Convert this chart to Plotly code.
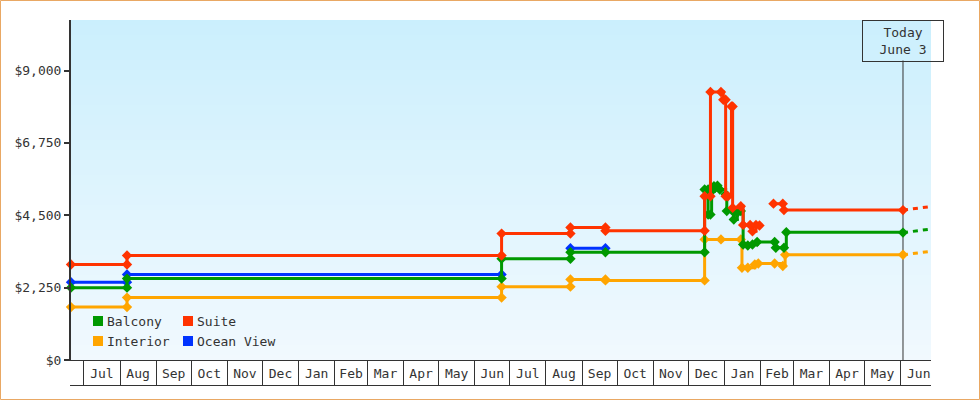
import plotly.graph_objects as go

# ---------------- data ----------------
suite_dates = ["2012-06-20", "2012-08-07", "2012-08-07", "2013-06-24", "2013-06-24",
               "2013-08-22", "2013-08-22", "2013-09-21", "2013-09-21", "2013-12-15",
               "2013-12-15", "2013-12-20", "2013-12-20", "2013-12-29", "2013-12-31",
               "2014-01-02", "2014-01-02", "2014-01-04", "2014-01-07", "2014-01-08",
               "2014-01-08", "2014-01-15", "2014-01-17", "2014-01-23", "2014-01-25",
               "2014-01-28", "2014-01-31", "2014-02-06", "2014-02-12", "2014-02-20",
               "2014-02-21", "2014-06-03"]
suite_prices = [2970, 2970, 3250, 3250, 3930,
                3930, 4120, 4120, 4020, 4020,
                5090, 5090, 8330, 8330, 8090,
                8090, 5090, 5090, 7880, 7880,
                4730, 4780, 4200, 4200, 4000,
                4200, 4180, None, 4860, 4860,
                4660, 4660]

balcony_dates = ["2012-06-20", "2012-08-07", "2012-08-07", "2013-06-24", "2013-06-24",
                 "2013-08-22", "2013-08-22", "2013-09-21", "2013-12-15", "2013-12-15",
                 "2013-12-18", "2013-12-18", "2013-12-20", "2013-12-21", "2013-12-23",
                 "2013-12-24", "2013-12-26", "2013-12-28", "2014-01-02", "2014-01-03",
                 "2014-01-08", "2014-01-09", "2014-01-12", "2014-01-15", "2014-01-17",
                 "2014-01-21", "2014-01-25", "2014-01-29", "2014-02-13", "2014-02-14",
                 "2014-02-21", "2014-02-23", "2014-06-03"]
balcony_prices = [2250, 2250, 2530, 2530, 3150,
                  3150, 3350, 3350, 3350, 5300,
                  5300, 4520, 4520, 5250, 5400,
                  5350, 5420, 5300, 5150, 4630,
                  4630, 4370, 4580, 4630, 3590,
                  3560, 3590, 3670, 3670, 3490,
                  3490, 3970, 3960]

interior_dates = ["2012-06-20", "2012-08-07", "2012-08-07", "2013-06-24", "2013-06-24",
                  "2013-08-22", "2013-08-22", "2013-09-21", "2013-09-21", "2013-12-15",
                  "2013-12-15", "2013-12-29", "2014-01-15", "2014-01-16", "2014-01-21",
                  "2014-01-27", "2014-01-30", "2014-02-13", "2014-02-20", "2014-02-22",
                  "2014-06-03"]
interior_prices = [1645, 1645, 1940, 1940, 2280,
                   2280, 2505, 2505, 2475, 2475,
                   3750, 3750, 3750, 2870, 2870,
                   2970, 3000, 3000, 2920, 3270,
                   3270]

ocean_dates = ["2012-06-20", "2012-08-07", "2012-08-07", "2013-06-24", "2013-07-20",
               "2013-08-22", "2013-09-21"]
ocean_prices = [2420, 2420, 2660, 2660, None,
                3475, 3475]

# short projections after "today"
proj_dates = ["2014-06-03", "2014-06-27"]
suite_proj = [4660, 4770]
balcony_proj = [3960, 4070]
interior_proj = [3270, 3380]

today = "2014-06-03"
today_label = "Today<br>June 3"
x_range = ["2012-06-20", "2014-06-27"]
y_ticks = [0, 2250, 4500, 6750, 9000]
y_tick_text = ["$" + format(v, ",") for v in y_ticks]
legend_order = ["Balcony", "Suite", "Interior", "Ocean View"]

# ---------------- styles ----------------
FONT = "DejaVu Sans Mono"
INK = "#333333"
colors = {"Suite": "#FF3300", "Balcony": "#009900", "Interior": "#FFA500", "Ocean View": "#0033FF"}

W, H = 980, 400
ML, MR, MT, MB = 71, 49, 20, 40
PW, PH = W - ML - MR, H - MT - MB


def px_x(p):
    return (p - ML) / PW


def px_y(p):
    return (H - MB - p) / PH


fig = go.Figure()

series = [
    ("Ocean View", ocean_dates, ocean_prices, None),
    ("Interior", interior_dates, interior_prices, interior_proj),
    ("Balcony", balcony_dates, balcony_prices, balcony_proj),
    ("Suite", suite_dates, suite_prices, suite_proj),
]

for name, xs, ys, proj in series:
    if proj is not None:
        fig.add_trace(go.Scatter(
            x=proj_dates, y=proj, mode="lines", showlegend=False, hoverinfo="skip",
            line=dict(color=colors[name], width=3, dash="5px,5px"), cliponaxis=False))
for name, xs, ys, proj in series:
    fig.add_trace(go.Scatter(
        x=xs, y=ys, name=name, mode="lines+markers", showlegend=False,
        line=dict(color=colors[name], width=3, shape="hv"),
        marker=dict(symbol="diamond", size=8, color=colors[name], line=dict(width=0)),
        connectgaps=False, cliponaxis=False))

shapes = []
# vertical gradient plot background
top_c = (203, 239, 253)
bot_c = (241, 249, 254)
N = 68
for k in range(N):
    t = (k + 0.5) / N
    c = tuple(round(bot_c[i] + (top_c[i] - bot_c[i]) * t) for i in range(3))
    shapes.append(dict(type="rect", xref="paper", yref="paper", x0=0, x1=1,
                       y0=k / N, y1=min(1, (k + 1) / N + 0.003), layer="below",
                       line=dict(width=0), fillcolor="rgb(%d,%d,%d)" % c))
# today marker line
shapes.append(dict(type="line", xref="x", yref="paper", x0=today, x1=today,
                   y0=0, y1=px_y(60.5), layer="below", line=dict(color=INK, width=1)))
# bottom line of the month strip
shapes.append(dict(type="line", xref="paper", yref="paper", x0=px_x(70), x1=1,
                   y0=px_y(385.5), y1=px_y(385.5), line=dict(color=INK, width=1)))
# outer border
shapes.append(dict(type="rect", xref="paper", yref="paper",
                   x0=px_x(0.5), x1=px_x(W - 0.5), y0=px_y(H - 0.5), y1=px_y(0.5),
                   line=dict(color="#E9A864", width=1), fillcolor="rgba(0,0,0,0)"))

annotations = [dict(x=today, xref="x", y=1, yref="paper", yanchor="top", xanchor="center",
                    text=today_label, showarrow=False, align="center",
                    bordercolor=INK, borderwidth=1, width=78, height=38,
                    font=dict(family=FONT, size=13, color=INK))]

# legend (square swatches + labels, two columns)
for i, name in enumerate(legend_order):
    col, row = i % 2, i // 2
    left = 93 + 90 * col
    top = 316 + 20 * row
    shapes.append(dict(type="rect", xref="paper", yref="paper",
                       x0=px_x(left), x1=px_x(left + 10), y0=px_y(top + 10), y1=px_y(top),
                       line=dict(width=0), fillcolor=colors[name]))
    annotations.append(dict(x=px_x(left + 12), y=px_y(top + 5), xref="paper", yref="paper",
                            xanchor="left", yanchor="middle", text=name, showarrow=False,
                            font=dict(family=FONT, size=13, color=INK)))

fig.update_layout(
    width=W, height=H, margin=dict(l=ML, r=MR, t=MT, b=MB),
    paper_bgcolor="white", plot_bgcolor="white",
    font=dict(family=FONT, size=13, color=INK),
    showlegend=False,
    shapes=shapes, annotations=annotations,
    xaxis=dict(type="date", range=x_range, showline=True, linecolor=INK, linewidth=1,
               ticks="outside", ticklen=25, tickwidth=1, tickcolor=INK,
               dtick="M1", tick0="2012-07-01", tickformat="%b", ticklabelmode="period",
               ticklabelstandoff=-24, showgrid=False, zeroline=False,
               tickfont=dict(family=FONT, size=13, color=INK)),
    yaxis=dict(range=[0, 10570], tickmode="array", tickvals=y_ticks, ticktext=y_tick_text,
               showline=True, linecolor=INK, linewidth=2, ticks="outside", ticklen=5,
               tickwidth=2, tickcolor=INK, showgrid=False, zeroline=False,
               tickfont=dict(family=FONT, size=13, color=INK)),
)

fig.write_html("out.html", config={"displayModeBar": False},
               post_script="document.body.style.margin='0';document.body.style.overflow='hidden';")
